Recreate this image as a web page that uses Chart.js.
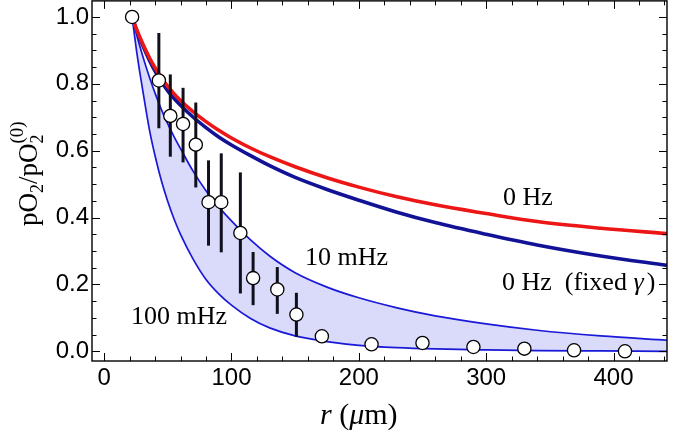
<!DOCTYPE html>
<html>
<head>
<meta charset="utf-8">
<script src="https://cdn.jsdelivr.net/npm/chart.js@4.4.0/dist/chart.umd.min.js"></script>
<style>
  html, body { margin: 0; padding: 0; background: #fff; }
</style>
</head>
<body>
<canvas id="profileChart" width="675" height="438"></canvas>
<script>
const rGrid = [22, 25, 28, 32, 36, 40, 45, 50, 55, 60, 70, 80, 90, 100, 115, 130, 150, 175, 200, 230, 260, 300, 340, 390, 442];

// model curves, pO2 / pO2(0)
const hz0 = [1.0, 0.968, 0.94, 0.906, 0.875, 0.848, 0.818, 0.792, 0.77, 0.75, 0.716, 0.687, 0.661, 0.638, 0.608, 0.582, 0.552, 0.519, 0.491, 0.462, 0.438, 0.412, 0.388, 0.368, 0.352];
const hz0Fixed = [1.0, 0.966, 0.936, 0.9, 0.867, 0.838, 0.806, 0.779, 0.756, 0.736, 0.7, 0.669, 0.641, 0.617, 0.585, 0.555, 0.52, 0.484, 0.452, 0.416, 0.385, 0.35, 0.318, 0.285, 0.257];
const mHz10 = [1.0, 0.955, 0.913, 0.862, 0.815, 0.772, 0.723, 0.68, 0.641, 0.606, 0.538, 0.48, 0.432, 0.39, 0.333, 0.285, 0.235, 0.192, 0.16, 0.13, 0.106, 0.082, 0.063, 0.046, 0.033];
const mHz100 = [1.0, 0.912, 0.835, 0.742, 0.655, 0.585, 0.51, 0.448, 0.395, 0.35, 0.275, 0.215, 0.172, 0.138, 0.098, 0.07, 0.046, 0.029, 0.018, 0.011, 0.007, 0.004, 0.002, 0.001, 0.0];

// measured points with error bars
const obsR = [22, 43, 52, 62, 72, 82, 92, 107, 117, 136, 151, 171, 210, 250, 290, 330, 369, 409];
const obsY = [1.0, 0.81, 0.704, 0.68, 0.618, 0.446, 0.446, 0.354, 0.219, 0.185, 0.11, 0.045, 0.021, 0.025, 0.013, 0.008, 0.003, 0.0];
const errHigh = [null, 0.952, 0.828, 0.788, 0.744, 0.571, 0.592, 0.535, 0.297, 0.252, 0.175, null, null, null, null, null, null, null];
const errLow = [null, 0.667, 0.582, 0.565, 0.49, 0.316, 0.296, 0.173, 0.138, 0.112, 0.043, null, null, null, null, null, null, null];

// axis ticks and frame range
const xTicks = [0, 100, 200, 300, 400];
const yTicks = [0, 0.2, 0.4, 0.6, 0.8, 1.0];
const yFrameTop = 1.048;

const curve = (vals) => rGrid.map((r, i) => ({ x: r, y: vals[i] }));

const serif = "'Liberation Serif', 'DejaVu Serif', serif";
const sans = "'Liberation Sans', Arial, sans-serif";

// vertical error bars under the open circles
const errorBars = {
  id: "errorBars",
  beforeDatasetDraw(chart, args) {
    if (args.index !== 4) return;
    const { ctx, scales } = chart;
    ctx.save();
    ctx.strokeStyle = "#10101c";
    ctx.lineWidth = 3;
    obsR.forEach((r, i) => {
      if (errHigh[i] == null) return;
      const px = scales.x.getPixelForValue(r);
      ctx.beginPath();
      ctx.moveTo(px, scales.y.getPixelForValue(errHigh[i]));
      ctx.lineTo(px, scales.y.getPixelForValue(errLow[i]));
      ctx.stroke();
    });
    ctx.restore();
  },
};

// mathematica style frame with inward ticks, titles and labels
const frameAndText = {
  id: "frameAndText",
  afterDraw(chart) {
    const { ctx, chartArea: a, scales } = chart;
    const xs = scales.x, ys = scales.y;
    // chart.js keeps a few px above the plot box, so the top edge is put at yFrameTop
    const top = ys.getPixelForValue(yFrameTop);
    ctx.save();
    ctx.strokeStyle = "#000";
    ctx.lineWidth = 1.4;
    ctx.strokeRect(a.left, top, a.right - a.left, a.bottom - top);

    ctx.lineWidth = 1;
    for (let v = 0; v <= xs.max; v += 20) {
      const px = Math.round(xs.getPixelForValue(v)) + 0.5;
      const len = v % 100 === 0 ? 8 : 4.5;
      ctx.beginPath();
      ctx.moveTo(px, a.bottom); ctx.lineTo(px, a.bottom - len);
      ctx.moveTo(px, top); ctx.lineTo(px, top + len);
      ctx.stroke();
    }
    for (let i = 0; i * 0.05 <= yFrameTop; i++) {
      const py = Math.round(ys.getPixelForValue(i * 0.05)) + 0.5;
      const len = i % 4 === 0 ? 8 : 4.5;
      ctx.beginPath();
      ctx.moveTo(a.left, py); ctx.lineTo(a.left + len, py);
      ctx.moveTo(a.right, py); ctx.lineTo(a.right - len, py);
      ctx.stroke();
    }

    // curve labels
    ctx.fillStyle = "#000";
    ctx.textBaseline = "alphabetic";
    ctx.font = "26px " + serif;
    ctx.fillText("0 Hz", 503, 205);
    ctx.fillText("10 mHz", 305, 265);
    ctx.fillText("100 mHz", 131, 324);
    ctx.fillText("0 Hz  (fixed ", 502, 290);
    let w = ctx.measureText("0 Hz  (fixed ").width;
    ctx.font = "italic 26px " + serif;
    ctx.fillText("\u03b3", 502 + w, 290);
    w += ctx.measureText("\u03b3").width;
    ctx.font = "26px " + serif;
    ctx.fillText(")", 502 + w + 3, 290);

    // x title: r (um)
    let x = 320;
    const yb = 424;
    const parts = [["italic", "r"], ["", " ("], ["italic", "\u03bc"], ["", "m)"]];
    parts.forEach(([st, t]) => {
      ctx.font = (st ? st + " " : "") + "30px " + serif;
      ctx.fillText(t, x, yb);
      x += ctx.measureText(t).width;
    });

    // y title: pO2/pO2(0), rotated
    ctx.translate(37, 226);
    ctx.rotate(-Math.PI / 2);
    let tx = 0;
    const seg = (t, size, dy) => {
      ctx.font = size + "px " + serif;
      ctx.fillText(t, tx, dy);
      tx += ctx.measureText(t).width;
    };
    seg("pO", 27, 0);
    seg("2", 18, 6);
    seg("/pO", 27, 0);
    const subX = tx;
    seg("2", 18, 6);
    tx = subX;
    seg("(0)", 19, -14);
    ctx.restore();
  },
};

new Chart(document.getElementById("profileChart"), {
  type: "scatter",
  data: {
    datasets: [
      {
        type: "line",
        label: "10 mHz",
        data: curve(mHz10),
        borderColor: "rgb(25, 25, 215)",
        borderWidth: 1.7,
        pointRadius: 0,
        cubicInterpolationMode: "monotone",
        fill: false,
        order: 3,
      },
      {
        type: "line",
        label: "100 mHz",
        data: curve(mHz100),
        borderColor: "rgb(25, 25, 215)",
        backgroundColor: "rgb(218, 218, 250)",
        borderWidth: 1.7,
        pointRadius: 0,
        cubicInterpolationMode: "monotone",
        fill: "-1",
        order: 4,
      },
      {
        type: "line",
        label: "0 Hz",
        data: curve(hz0),
        borderColor: "rgb(236, 22, 22)",
        borderWidth: 3.6,
        pointRadius: 0,
        cubicInterpolationMode: "monotone",
        fill: false,
        order: 1,
      },
      {
        type: "line",
        label: "0 Hz (fixed gamma)",
        data: curve(hz0Fixed),
        borderColor: "rgb(18, 18, 150)",
        borderWidth: 3.6,
        pointRadius: 0,
        cubicInterpolationMode: "monotone",
        fill: false,
        order: 2,
      },
      {
        label: "data",
        data: obsR.map((r, i) => ({ x: r, y: obsY[i] })),
        pointRadius: 6.6,
        pointBackgroundColor: "#fff",
        pointBorderColor: "#000",
        pointBorderWidth: 1.3,
        order: 0,
      },
    ],
  },
  options: {
    responsive: false,
    animation: false,
    devicePixelRatio: 1,
    layout: { padding: { top: 1, right: 8, left: 0, bottom: 0 } },
    plugins: {
      legend: { display: false },
      tooltip: { enabled: false },
    },
    scales: {
      x: {
        type: "linear",
        min: -9.5,
        max: 442,
        grid: { display: false, drawTicks: false },
        border: { display: false },
        afterBuildTicks: (s) => { s.ticks = xTicks.map((v) => ({ value: v })); },
        afterFit: (s) => { s.height = 77; s.paddingLeft = 0; s.paddingRight = 0; },
        ticks: {
          color: "#000",
          padding: 3,
          maxRotation: 0,
          font: { family: sans, size: 24 },
        },
      },
      y: {
        min: -0.029,
        max: 1.027,
        grid: { display: false, drawTicks: false },
        border: { display: false },
        afterBuildTicks: (s) => { s.ticks = yTicks.map((v) => ({ value: v })); },
        afterFit: (s) => { s.width = 92; s.paddingTop = 0; s.paddingBottom = 0; },
        ticks: {
          color: "#000",
          padding: 3,
          callback: (v) => v.toFixed(1),
          font: { family: sans, size: 24 },
        },
      },
    },
  },
  plugins: [errorBars, frameAndText],
});
</script>
</body>
</html>
